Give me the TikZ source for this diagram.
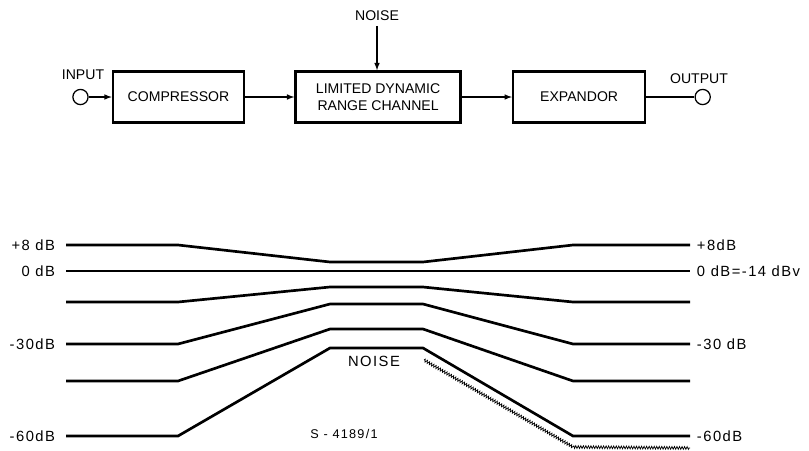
\documentclass[tikz,border=0pt]{standalone}
\usepackage{fontspec}
\setmainfont{Liberation Sans}
\newfontfamily\levelfont{Liberation Sans}[LetterSpace=10]
\usetikzlibrary{shapes.geometric, arrows, positioning, calc, decorations.pathmorphing}

\begin{document}
\begin{tikzpicture}[x=0.025cm, y=-0.025cm, node distance=1.25cm, font=\fontsize{10}{12.5}\selectfont]
        \tikzstyle{block} = [rectangle, minimum height=1.275cm, text centered, align=center, draw=black, line width=1.8pt]
        \tikzstyle{port} = [circle, minimum size=0.38cm, inner sep=0pt, draw=black, line width=0.9pt]
        \tikzstyle{arrow} = [line width=0.8pt,->,>=latex]
        \tikzstyle{level} = [line width=1.9pt]
        \tikzstyle{dblbl} = [font=\levelfont\fontsize{10.5}{12.5}\selectfont]
        \tikzstyle{noisy} = [line width=0.5pt, decorate, decoration={zigzag, segment length=1.8pt, amplitude=1pt}]

        \useasboundingbox (0,0) rectangle (809,450);

        % block diagram
        \node (comp) [block, minimum width=3.275cm] at (178.5,97) {COMPRESSOR};
        \node (chan) [block, minimum width=4.125cm, right=1.225cm of comp] {LIMITED DYNAMIC\\RANGE CHANNEL};
        \node (expd) [block, minimum width=3.3cm, right=of chan] {EXPANDOR};
        \node (in) [port, left=0.575cm of comp] {};
        \node (out) [port, right=1.2cm of expd] {};
        \node (inlbl) at (83,75) {INPUT};
        \node (outlbl) at (699,79) {OUTPUT};
        \node (noise) at (377,16) {NOISE};

        \draw [arrow] (in) -- (comp);
        \draw [arrow] (comp) -- (chan);
        \draw [arrow] (chan) -- (expd);
        \draw [line width=0.8pt] (expd) -- (out);
        \draw [arrow] (noise.south) -- (noise.south |- chan.north);

        % level diagram
        \draw [level] (66,245) -- (178,245) -- (330,262) -- (423,262) -- (573,245) -- (690,245);
        \draw [level] (66,271) -- (690,271);
        \draw [level] (66,302) -- (178,302) -- (330,287) -- (423,287) -- (573,302) -- (690,302);
        \draw [level] (66,344) -- (178,344) -- (330,304) -- (423,304) -- (573,344) -- (690,344);
        \draw [level] (66,381) -- (178,381) -- (330,329) -- (423,329) -- (573,381) -- (690,381);
        \draw [level] (66,436) -- (178,436) -- (330,348) -- (423,348) -- (573,436) -- (690,436);
        \draw [noisy] (424,360) -- (573,447) -- (690,448);

        \node (l8) [dblbl, anchor=east] at (60,245) {+8 dB};
        \node (l0) [dblbl, anchor=east] at (60,271) {0 dB};
        \node (l30) [dblbl, anchor=east] at (60,344) {-30dB};
        \node (l60) [dblbl, anchor=east] at (60,436) {-60dB};
        \node (r8) [dblbl, anchor=west] at (692,245) {+8dB};
        \node (r0) [dblbl, anchor=west] at (692,271) {0 dB=-14 dBv};
        \node (r30) [dblbl, anchor=west] at (692,344) {-30 dB};
        \node (r60) [dblbl, anchor=west] at (692,436) {-60dB};
        \node (nlbl) [dblbl] at (374,361) {NOISE};
        \node (ref) [dblbl, font=\levelfont\fontsize{9}{11}\selectfont] at (344,434) {S - 4189/1};
    \end{tikzpicture}
\end{document}
